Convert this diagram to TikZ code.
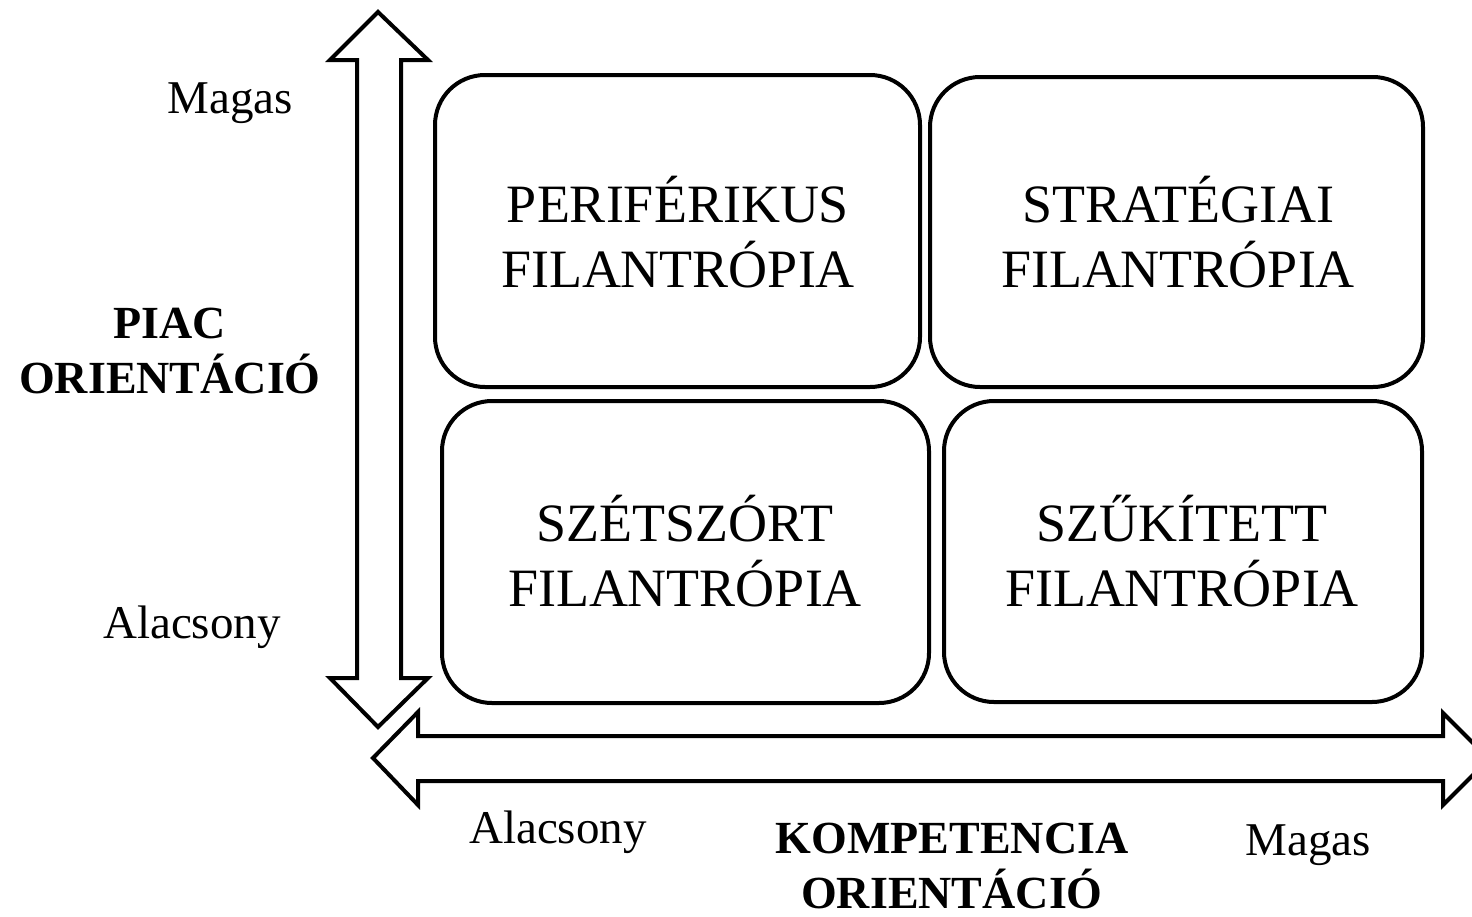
\documentclass[tikz,border=0pt]{standalone}
\usepackage{fontspec}
\setmainfont{Liberation Serif}
\begin{document}
\begin{tikzpicture}[x=0.5pt,y=-0.5pt,
  quad/.style={draw=black,line width=2pt,rounded corners=25pt},
  quadtext/.style={align=center,font=\fontsize{27}{32.5}\selectfont},
  lbl/.style={font=\fontsize{23.5}{28}\selectfont},
  axlbl/.style={align=center,font=\bfseries\fontsize{23}{27.5}\selectfont},
  bigarrow/.style={draw=black,line width=2pt,line join=miter,fill=white}]
\useasboundingbox (0,0) rectangle (1472,916);
\clip (0,0) rectangle (1472,916);
% vertical double arrow
\draw[bigarrow] (378,12) -- (428,60) -- (401,60) -- (401,678) -- (428,678) -- (378,727)
  -- (330,678) -- (357,678) -- (357,60) -- (330,60) -- cycle;
% horizontal double arrow
\draw[bigarrow] (373,758) -- (418,712) -- (418,736) -- (1443,736) -- (1443,713) -- (1489,759)
  -- (1443,805) -- (1443,781) -- (418,781) -- (418,805) -- cycle;
% quadrants
\draw[quad] (435,75) rectangle (920,387);
\draw[quad] (930,77) rectangle (1423,387);
\draw[quad] (442,401) rectangle (929,703);
\draw[quad] (944,401) rectangle (1422,702);
\node[quadtext] (q1) at (678,232) {PERIFÉRIKUS\\FILANTRÓPIA};
\node[quadtext] (q2) at (1178,232) {STRATÉGIAI\\FILANTRÓPIA};
\node[quadtext] (q3) at (685,551) {SZÉTSZÓRT\\FILANTRÓPIA};
\node[quadtext] (q4) at (1182,551) {SZŰKÍTETT\\FILANTRÓPIA};
% labels
\node[lbl] (ymag) at (230,103) {Magas};
\node[lbl] (yal) at (192,627) {Alacsony};
\node[axlbl] (yax) at (170,351) {PIAC\\ORIENTÁCIÓ};
\node[lbl] (xal) at (558,832) {Alacsony};
\node[lbl] (xmag) at (1308,845) {Magas};
\node[axlbl] (xax) at (952,866) {KOMPETENCIA\\ORIENTÁCIÓ};
\end{tikzpicture}
\end{document}
